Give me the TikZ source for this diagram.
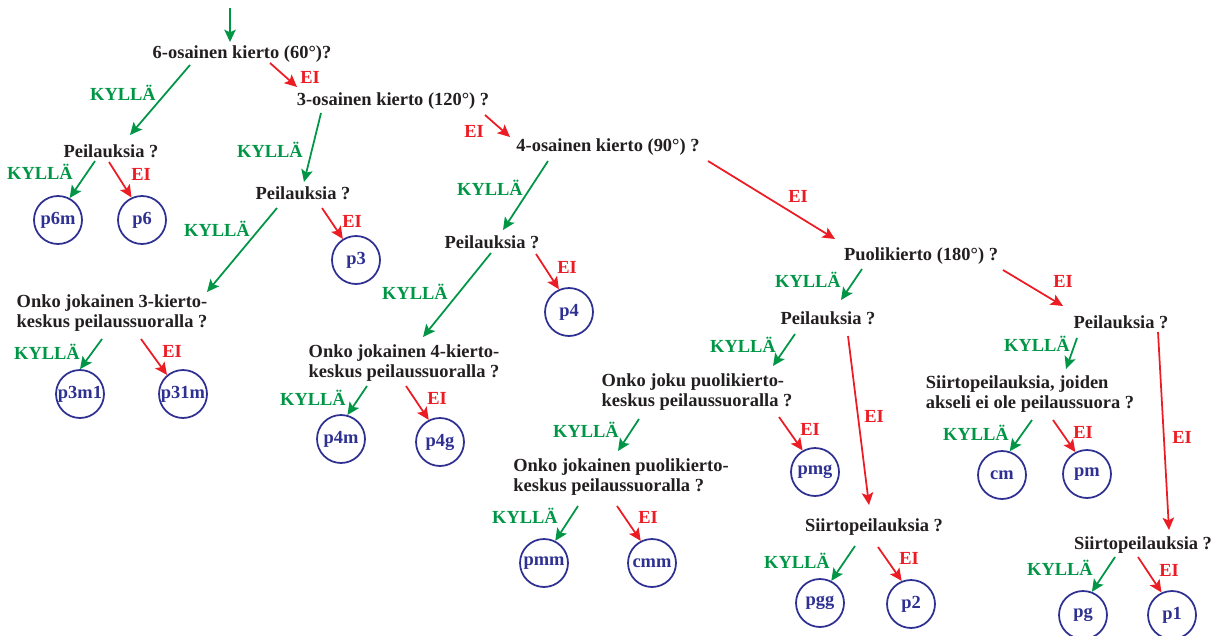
\documentclass[tikz,border=0pt]{standalone}
\usepackage{fontspec}
\setmainfont{Liberation Serif}
\usepackage{tikz}
\usepackage{xcolor}
\usetikzlibrary{calc,arrows.meta}
\definecolor{kgreen}{RGB}{0,150,70}
\definecolor{eired}{RGB}{236,28,36}
\definecolor{navy}{RGB}{46,49,146}
\definecolor{ink}{RGB}{35,31,32}

\begin{document}
\begin{tikzpicture}[x=0.02cm,y=-0.02cm,font=\fontsize{10.5}{11.5}\selectfont\bfseries]
% Styles: questions, groups and the two kinds of answer
\tikzstyle{question}=[inner sep=0,text=ink,align=left];
\tikzstyle{group}=[circle,draw=navy,line width=1pt,minimum size=0.96cm,inner sep=0,text=navy];
\tikzstyle{yes arrow}=[draw=kgreen,line width=1pt,-{Stealth[length=7pt,width=6.5pt,inset=1.5pt]}];
\tikzstyle{no arrow}=[draw=eired,line width=1pt,-{Stealth[length=7pt,width=6.5pt,inset=1.5pt]}];
\tikzstyle{yes label}=[text=kgreen,inner sep=0];
\tikzstyle{no label}=[text=eired,inner sep=0];
\useasboundingbox (0,0) rectangle (1219,635);
% The questions
\coordinate (top) at (230,8);
\node(q60)[question] at (242,54) {6-osainen kierto (60°)?};
\node(q120)[question] at (393,101) {3-osainen kierto (120°) ?};
\node(q90)[question] at (608,147) {4-osainen kierto (90°) ?};
\node(q180)[question] at (921,256) {Puolikierto (180°) ?};
\node(m6)[question] at (111,151) {Peilauksia ?};
\node(m3)[question] at (303,193) {Peilauksia ?};
\node(m4)[question] at (492,242) {Peilauksia ?};
\node(m2a)[question] at (828,318) {Peilauksia ?};
\node(m2b)[question] at (1121,322) {Peilauksia ?};
\node(c3)[question] at (112,313) {Onko jokainen 3-kierto-\\keskus peilaussuoralla ?};
\node(c4)[question] at (404,363) {Onko jokainen 4-kierto-\\keskus peilaussuoralla ?};
\node(c2a)[question] at (697,392) {Onko joku puolikierto-\\keskus peilaussuoralla ?};
\node(c2b)[question] at (621,477) {Onko jokainen puolikierto-\\keskus peilaussuoralla ?};
\node(g2)[question] at (1030,394) {Siirtopeilauksia, joiden\\akseli ei ole peilaussuora ?};
\node(s2a)[question] at (874,527) {Siirtopeilauksia ?};
\node(s2b)[question] at (1143,545) {Siirtopeilauksia ?};
% The groups
\node(p6m)[group] at (58,220) {p6m};
\node(p6)[group] at (142,220) {p6};
\node(p3)[group] at (356,260) {p3};
\node(p4)[group] at (569,312) {p4};
\node(p3m1)[group] at (80,394) {p3m1};
\node(p31m)[group] at (183,394) {p31m};
\node(p4m)[group] at (341,439) {p4m};
\node(p4g)[group] at (440,442) {p4g};
\node(pmg)[group] at (815,472) {pmg};
\node(pmm)[group] at (544,563) {pmm};
\node(cmm)[group] at (652,563) {cmm};
\node(pgg)[group] at (820,603) {pgg};
\node(p2)[group] at (911,604) {p2};
\node(cm)[group] at (1002,475) {cm};
\node(pm)[group] at (1087,474) {pm};
\node(pg)[group] at (1083,615) {pg};
\node(p1)[group] at (1172,615) {p1};
% yes arrows
\draw[yes arrow](top)--($(q60)+(-12,-12)$);
\draw[yes arrow]($(q60)+(-52,11)$)--($(m6)+(19,-16)$);
\draw[yes arrow]($(q120)+(-72,12)$)--($(m3)+(1,-11)$);
\draw[yes arrow]($(q90)+(-60,14)$)--($(m4)+(11,-12)$);
\draw[yes arrow]($(q180)+(-59,13)$)--($(m2a)+(13,-18)$);
\draw[yes arrow]($(m6)+(-16,10)$)--(p6m.62);
\draw[yes arrow]($(m3)+(-26,15)$)--($(c3)+(95,-21)$);
\draw[yes arrow]($(m4)+(-1,11)$)--($(c4)+(19,-26)$);
\draw[yes arrow]($(m2a)+(-33,16)$)--($(c2a)+(76,-26)$);
\draw[yes arrow]($(m2b)+(-44,16)$)--($(g2)+(36,-25)$);
\draw[yes arrow]($(c3)+(-10,26)$)--(p3m1.90);
\draw[yes arrow]($(c4)+(-37,23)$)--(p4m.75);
\draw[yes arrow]($(c2a)+(-58,27)$)--($(c2b)+(-3,-26)$);
\draw[yes arrow]($(c2b)+(-43,29)$)--(pmm.63);
\draw[yes arrow]($(s2a)+(-19,19)$)--(pgg.63);
\draw[yes arrow]($(g2)+(2,26)$)--(cm.72);
\draw[yes arrow]($(s2b)+(-28,12)$)--(pg.69);
% no arrows
\draw[no arrow]($(q60)+(28,9)$)--($(q120)+(-96,-14)$);
\draw[no arrow]($(q120)+(92,14)$)--($(q90)+(-98,-10)$);
\draw[no arrow]($(q90)+(100,14)$)--($(q180)+(-86,-17)$);
\draw[no arrow]($(q180)+(82,14)$)--($(m2b)+(-58,-16)$);
\draw[no arrow]($(m6)+(-2,11)$)--(p6.115);
\draw[no arrow]($(m3)+(19,15)$)--(p3.122);
\draw[no arrow]($(m4)+(44,12)$)--(p4.114);
\draw[no arrow]($(m2a)+(20,18)$)--($(s2a)+(-5,-22)$);
\draw[no arrow]($(m2b)+(37,10)$)--($(s2b)+(26,-15)$);
\draw[no arrow]($(c3)+(29,26)$)--(p31m.130);
\draw[no arrow]($(c4)+(2,23)$)--(p4g.117);
\draw[no arrow]($(c2a)+(82,25)$)--(pmg.120);
\draw[no arrow]($(c2b)+(-4,29)$)--(cmm.117);
\draw[no arrow]($(s2a)+(4,20)$)--(p2.112);
\draw[no arrow]($(g2)+(23,26)$)--(pm.118);
\draw[no arrow]($(s2b)+(-5,12)$)--(p1.115);
% answer labels
\node(y1)[yes label] at (123,93) {KYLLÄ};
\node(y2)[yes label] at (270,150) {KYLLÄ};
\node(y3)[yes label] at (490,188) {KYLLÄ};
\node(y4)[yes label] at (808,280) {KYLLÄ};
\node(y5)[yes label] at (40,172) {KYLLÄ};
\node(y6)[yes label] at (217,229) {KYLLÄ};
\node(y7)[yes label] at (415,292) {KYLLÄ};
\node(y8)[yes label] at (743,345) {KYLLÄ};
\node(y9)[yes label] at (1037,344) {KYLLÄ};
\node(y10)[yes label] at (47,352) {KYLLÄ};
\node(y11)[yes label] at (313,398) {KYLLÄ};
\node(y12)[yes label] at (586,430) {KYLLÄ};
\node(y13)[yes label] at (525,516) {KYLLÄ};
\node(y14)[yes label] at (797,561) {KYLLÄ};
\node(y15)[yes label] at (976,433) {KYLLÄ};
\node(y16)[yes label] at (1060,568) {KYLLÄ};
\node(n1)[no label] at (310,77) {EI};
\node(n2)[no label] at (474,131) {EI};
\node(n3)[no label] at (798,196) {EI};
\node(n4)[no label] at (1063,281) {EI};
\node(n5)[no label] at (141,174) {EI};
\node(n6)[no label] at (352,221) {EI};
\node(n7)[no label] at (567,267) {EI};
\node(n8)[no label] at (874,416) {EI};
\node(n9)[no label] at (1182,437) {EI};
\node(n10)[no label] at (172,351) {EI};
\node(n11)[no label] at (437,398) {EI};
\node(n12)[no label] at (810,429) {EI};
\node(n13)[no label] at (648,517) {EI};
\node(n14)[no label] at (909,558) {EI};
\node(n15)[no label] at (1083,432) {EI};
\node(n16)[no label] at (1169,570) {EI};
\end{tikzpicture}
\end{document}
